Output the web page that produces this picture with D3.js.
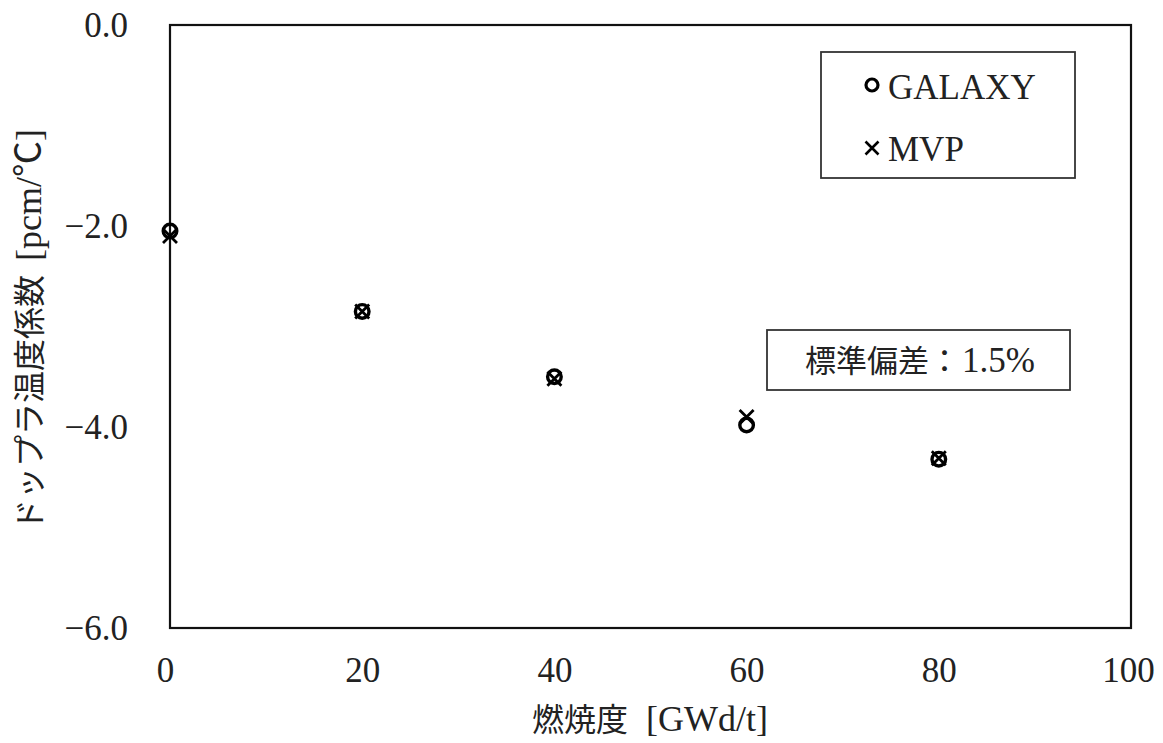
<!DOCTYPE html>
<html><head><meta charset="utf-8">
<script src="https://cdn.jsdelivr.net/npm/d3@7"></script>
<style>
body{margin:0;background:#fff;}
text{font-family:"Liberation Serif","Noto Sans CJK JP",serif;fill:#222;}
.cjk{font-family:"Noto Sans CJK JP",sans-serif;font-weight:400;}
</style></head>
<body><svg id="c" width="1163" height="743"></svg>
<script>
const burnup = [0, 20, 40, 60, 80];
const galaxy = [-2.05, -2.85, -3.50, -3.98, -4.32];
const mvp = [-2.10, -2.85, -3.52, -3.90, -4.31];
const xTicks = [0, 20, 40, 60, 80, 100];
const yTicks = [0, -2, -4, -6];
const xLabel = ["燃焼度", "[GWd/t]"];
const yLabel = ["ドップラ温度係数", "[pcm/℃]"];
const legendNames = ["GALAXY", "MVP"];
const noteText = ["標準偏差：", "1.5%"];

const svg = d3.select("#c");
const L = 170, R = 1131, T = 25, B = 628;
const x = d3.scaleLinear().domain([0, 100]).range([L, R]);
const y = d3.scaleLinear().domain([-6, 0]).range([B, T]);

// frame
svg.append("rect").attr("x", L).attr("y", T).attr("width", R - L).attr("height", B - T)
  .attr("fill", "none").attr("stroke", "#111").attr("stroke-width", 2.2);

// axes (labels only)
const xa = svg.append("g").attr("transform", `translate(0,${B})`)
  .call(d3.axisBottom(x).tickValues(xTicks).tickSize(0).tickPadding(29).tickFormat(d3.format("d")));
xa.select(".domain").remove();
xa.selectAll("text").attr("font-size", 35).attr("font-family", "Liberation Serif").attr("fill", "#222").attr("dy", "0.71em");
xa.selectAll(".tick").filter(d => d === 0).select("text").attr("dx", -5);
xa.selectAll(".tick").filter(d => d === 100).select("text").attr("dx", -3);

const ya = svg.append("g").attr("transform", `translate(${L},0)`)
  .call(d3.axisLeft(y).tickValues(yTicks).tickSize(0).tickPadding(42).tickFormat(d => d3.format(".1f")(d).replace("-", "−")));
ya.select(".domain").remove();
ya.selectAll("text").attr("font-size", 35).attr("font-family", "Liberation Serif").attr("fill", "#222");

// axis titles
const xt = svg.append("text").attr("x", 650).attr("y", 731).attr("text-anchor", "middle");
xt.append("tspan").attr("class", "cjk").attr("font-size", 32).text(xLabel[0]);
xt.append("tspan").attr("font-size", 36).attr("dx", 18).text(xLabel[1]);

const yt = svg.append("text").attr("transform", `translate(41,330) rotate(-90)`).attr("text-anchor", "middle");
yt.append("tspan").attr("class", "cjk").attr("font-size", 32).text(yLabel[0]);
yt.append("tspan").attr("font-size", 36).attr("dx", 14).text(yLabel[1]);

// markers
const crossPath = (cx, cy, s) => `M${cx - s},${cy - s}L${cx + s},${cy + s}M${cx - s},${cy + s}L${cx + s},${cy - s}`;
svg.append("g").selectAll("circle").data(burnup).join("circle")
  .attr("cx", (d) => x(d)).attr("cy", (d, i) => y(galaxy[i])).attr("r", 6.8)
  .attr("fill", "none").attr("stroke", "#000").attr("stroke-width", 3.4);
svg.append("g").selectAll("path").data(burnup).join("path")
  .attr("d", (d, i) => crossPath(x(d), y(mvp[i]), 7))
  .attr("fill", "none").attr("stroke", "#000").attr("stroke-width", 2.8);

// legend
const lg = svg.append("g");
lg.append("rect").attr("x", 821).attr("y", 52).attr("width", 254).attr("height", 126)
  .attr("fill", "#fff").attr("stroke", "#333").attr("stroke-width", 1.8);
lg.append("circle").attr("cx", 872).attr("cy", 85).attr("r", 6).attr("fill", "none").attr("stroke", "#000").attr("stroke-width", 3.2);
lg.append("path").attr("d", crossPath(872, 148, 6.5)).attr("stroke", "#000").attr("stroke-width", 2.6);
lg.append("text").attr("x", 888).attr("y", 99).attr("font-size", 35).text(legendNames[0]);
lg.append("text").attr("x", 888).attr("y", 161).attr("font-size", 35).text(legendNames[1]);

// note box
const nb = svg.append("g");
nb.append("rect").attr("x", 767).attr("y", 330).attr("width", 303).attr("height", 60)
  .attr("fill", "#fff").attr("stroke", "#333").attr("stroke-width", 1.8);
const nt = nb.append("text").attr("x", 920).attr("y", 372).attr("text-anchor", "middle");
nt.append("tspan").attr("class", "cjk").attr("font-size", 31).text(noteText[0]);
nt.append("tspan").attr("font-size", 35).attr("dx", 2).text(noteText[1]);
</script></body></html>
